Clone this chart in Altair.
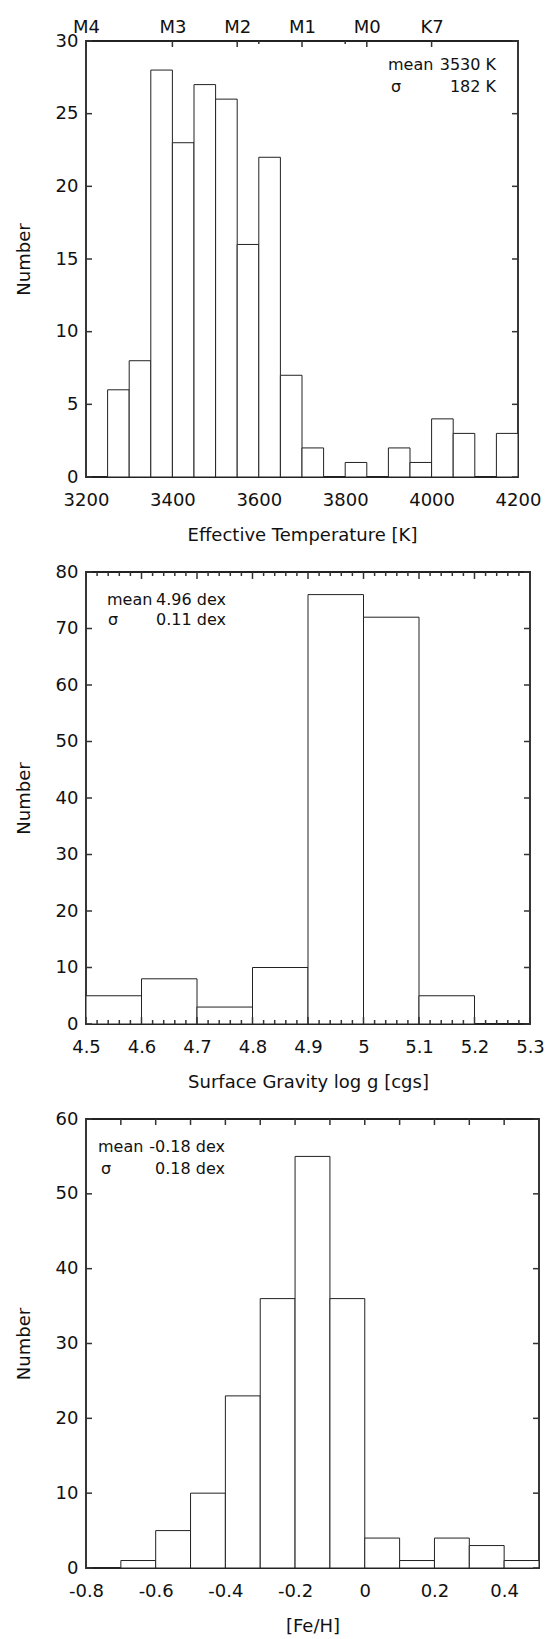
import altair as alt
import pandas as pd

FONT = "DejaVu Sans"
INK = "#111111"
EDGE = "#222222"

# ---------------- data ----------------
# Panel 1: effective temperature histogram (bin left edges, 50 K wide)
teff_bin_lo = [3250, 3300, 3350, 3400, 3450, 3500, 3550, 3600, 3650, 3700,
               3750, 3800, 3850, 3900, 3950, 4000, 4050, 4100, 4150]
teff_counts = [6, 8, 28, 23, 27, 26, 16, 22, 7, 2, 0, 1, 0, 2, 1, 4, 3, 0, 3]
teff_bin_width = 50
teff_x_ticks = [3200, 3400, 3600, 3800, 4000, 4200]
teff_y_ticks = [0, 5, 10, 15, 20, 25, 30]
spec_types = ["M4", "M3", "M2", "M1", "M0", "K7"]
spec_teff = [3200, 3400, 3550, 3700, 3850, 4000]
teff_mirror_ticks = [3600, 3800]
teff_stats = ["mean", "σ"]
teff_stat_values = ["3530 K", "182 K"]

# Panel 2: surface gravity histogram (0.1 dex bins)
logg_bin_lo = [4.5, 4.6, 4.7, 4.8, 4.9, 5.0, 5.1, 5.2]
logg_counts = [5, 8, 3, 10, 76, 72, 5, 0]
logg_bin_width = 0.1
logg_x_ticks = [4.5, 4.6, 4.7, 4.8, 4.9, 5.0, 5.1, 5.2, 5.3]
logg_minor_ticks = [4.52, 4.54, 4.56, 4.58, 4.62, 4.64, 4.66, 4.68,
                    4.72, 4.74, 4.76, 4.78, 4.82, 4.84, 4.86, 4.88,
                    4.92, 4.94, 4.96, 4.98, 5.02, 5.04, 5.06, 5.08,
                    5.12, 5.14, 5.16, 5.18, 5.22, 5.24, 5.26, 5.28]
logg_y_ticks = [0, 10, 20, 30, 40, 50, 60, 70, 80]
logg_stats = ["mean", "σ"]
logg_stat_values = ["4.96 dex", "0.11 dex"]

# Panel 3: metallicity histogram (0.1 dex bins)
feh_bin_lo = [-0.7, -0.6, -0.5, -0.4, -0.3, -0.2, -0.1, 0.0, 0.1, 0.2, 0.3, 0.4]
feh_counts = [1, 5, 10, 23, 36, 55, 36, 4, 1, 4, 3, 1]
feh_bin_width = 0.1
feh_x_ticks = [-0.8, -0.6, -0.4, -0.2, 0.0, 0.2, 0.4]
feh_top_ticks = [-0.7, -0.6, -0.5, -0.4, -0.3, -0.2, -0.1, 0.0, 0.1, 0.2, 0.3, 0.4]
feh_y_ticks = [0, 10, 20, 30, 40, 50, 60]
feh_stats = ["mean", "σ"]
feh_stat_values = ["-0.18 dex", "0.18 dex"]


def hist_frame(lo, counts, width):
    df = pd.DataFrame({"lo": lo, "count": counts})
    df["hi"] = df["lo"] + width
    df["zero"] = 0
    return df[df["count"] > 0]


def axis_x(values, title):
    return alt.Axis(values=values, title=title, labelExpr="toString(datum.value)",
                    orient="bottom",
                    tickSize=0, domain=False, grid=False, labelPadding=14,
                    titlePadding=17, labelFontSize=18, titleFontSize=18,
                    labelFont=FONT, titleFont=FONT, titleFontWeight="normal",
                    labelColor=INK, titleColor=INK, labelFlush=False,
                    labelOverlap=False)


def axis_y(values):
    return alt.Axis(values=values, title="Number", tickSize=0, domain=False,
                    grid=False, labelPadding=8, titlePadding=22,
                    labelFontSize=18, titleFontSize=18, labelFont=FONT,
                    titleFont=FONT, titleFontWeight="normal", labelColor=INK,
                    titleColor=INK, labelFlush=False, labelOverlap=False)


def tick_rules(values, scale, axis, channel, start, end, width=1.5):
    df = pd.DataFrame({"v": values})
    base = alt.Chart(df).mark_rule(color="#333333", strokeWidth=width)
    if channel == "y":
        return base.encode(y=alt.Y("v:Q", scale=scale, axis=axis),
                           x=alt.value(start), x2=alt.value(end))
    return base.encode(x=alt.X("v:Q", scale=scale, axis=axis),
                       y=alt.value(start), y2=alt.value(end))


def stat_texts(names, values, x_left, x_right, y_rows, sigma_dx):
    layers = []
    one = pd.DataFrame({"k": [0]})
    for i, (n, v) in enumerate(zip(names, values)):
        dx = sigma_dx if i == 1 else 0
        layers.append(alt.Chart(one).mark_text(
            text=n, align="left", baseline="middle", font=FONT, fontSize=16,
            color=INK).encode(x=alt.value(x_left + dx), y=alt.value(y_rows[i])))
        layers.append(alt.Chart(one).mark_text(
            text=v, align="right", baseline="middle", font=FONT, fontSize=16,
            color=INK).encode(x=alt.value(x_right), y=alt.value(y_rows[i])))
    return layers


def bars(df, xscale, yscale, xaxis, yaxis):
    return alt.Chart(df).mark_rect(fill="white", stroke=EDGE, strokeWidth=1).encode(
        x=alt.X("lo:Q", scale=xscale, axis=xaxis),
        x2="hi:Q",
        y=alt.Y("count:Q", scale=yscale, axis=yaxis),
        y2="zero:Q",
    )


# ---------------- panel 1 ----------------
W1, H1 = 432, 436
xs1 = alt.Scale(domain=[3200, 4200], nice=False, zero=False)
ys1 = alt.Scale(domain=[0, 30], nice=False)
xa1 = axis_x(teff_x_ticks, "Effective Temperature [K]")
ya1 = axis_y(teff_y_ticks)
spec_expr = " : ".join(
    f"datum.value == {t} ? '{s}'" for s, t in zip(spec_types, spec_teff)) + " : ''"
top_axis = alt.Axis(orient="top", values=spec_teff, labelExpr=spec_expr,
                    tickSize=0, domain=False, grid=False, labelPadding=5,
                    title=None, labelFontSize=18, labelFont=FONT,
                    labelColor=INK, labelFlush=False, labelOverlap=False)
p1_layers = [
    bars(hist_frame(teff_bin_lo, teff_counts, teff_bin_width), xs1, ys1, xa1, ya1),
    tick_rules(teff_y_ticks, ys1, ya1, "y", 0, 6),
    tick_rules(teff_y_ticks, ys1, ya1, "y", W1, W1 - 6),
    tick_rules(spec_teff, xs1, top_axis, "x", 0, 6),
    tick_rules(teff_mirror_ticks, xs1, None, "x", 0, 3),
] + stat_texts(teff_stats, teff_stat_values, 302, 410, [24, 46], 3)
p1 = alt.layer(*p1_layers).resolve_scale(x="independent").properties(
    width=W1, height=H1)

# ---------------- panel 2 ----------------
W2, H2 = 444, 452
xs2 = alt.Scale(domain=[4.5, 5.3], nice=False, zero=False)
ys2 = alt.Scale(domain=[0, 80], nice=False)
xa2 = axis_x(logg_x_ticks, "Surface Gravity log g [cgs]")
ya2 = axis_y(logg_y_ticks)
p2_layers = [
    bars(hist_frame(logg_bin_lo, logg_counts, logg_bin_width), xs2, ys2, xa2, ya2),
    tick_rules(logg_y_ticks, ys2, ya2, "y", 0, 6),
    tick_rules(logg_y_ticks, ys2, ya2, "y", W2, W2 - 6),
    tick_rules(logg_x_ticks, xs2, xa2, "x", H2, H2 - 7),
    tick_rules(logg_minor_ticks, xs2, xa2, "x", H2, H2 - 4),
    tick_rules(logg_x_ticks, xs2, xa2, "x", 0, 7),
    tick_rules(logg_minor_ticks, xs2, xa2, "x", 0, 4),
] + stat_texts(logg_stats, logg_stat_values, 21, 140, [28, 48], 1)
p2 = alt.layer(*p2_layers).properties(width=W2, height=H2)

# ---------------- panel 3 ----------------
W3, H3 = 453, 449
xs3 = alt.Scale(domain=[-0.8, 0.5], nice=False, zero=False)
ys3 = alt.Scale(domain=[0, 60], nice=False)
xa3 = axis_x(feh_x_ticks, "[Fe/H]")
ya3 = axis_y(feh_y_ticks)
p3_layers = [
    bars(hist_frame(feh_bin_lo, feh_counts, feh_bin_width), xs3, ys3, xa3, ya3),
    tick_rules(feh_y_ticks, ys3, ya3, "y", 0, 6),
    tick_rules(feh_y_ticks, ys3, ya3, "y", W3, W3 - 6),
    tick_rules(feh_top_ticks, xs3, xa3, "x", 0, 6),
] + stat_texts(feh_stats, feh_stat_values, 12, 139, [28, 50], 3)
p3 = alt.layer(*p3_layers).properties(width=W3, height=H3)

chart = alt.vconcat(p1, p2, p3, spacing=95, bounds="flush").properties(
    padding={"left": 14, "top": 17, "right": 0, "bottom": 0},
    background="white",
).configure(font=FONT).configure_view(stroke="#222222", strokeWidth=1.8)

chart.save("out.html", embed_options={"renderer": "svg", "actions": False})
